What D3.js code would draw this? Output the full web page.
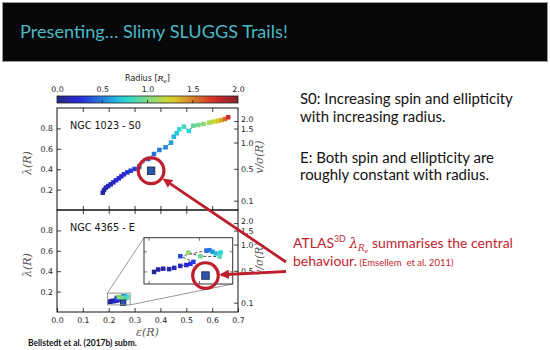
<!DOCTYPE html>
<html>
<head>
<meta charset="utf-8">
<script src="https://cdn.jsdelivr.net/npm/d3@7"></script>
<style>
  body { margin: 0; background: #fff; }
  svg { display: block; }
</style>
</head>
<body>
<svg id="slide" width="550" height="350"></svg>
<script>
// NGC 1023 (S0) trail: ellipticity, lambda, radius [Re]
var s0Eps = [0.177, 0.182, 0.189, 0.198, 0.208, 0.218, 0.228, 0.239, 0.249, 0.259, 0.272, 0.285, 0.300, 0.318,
             0.353, 0.375, 0.396, 0.420, 0.441, 0.452, 0.463, 0.473, 0.491, 0.510, 0.527, 0.546, 0.566, 0.588,
             0.598, 0.612, 0.624, 0.637, 0.650, 0.662];
var s0Lam = [0.170, 0.196, 0.219, 0.235, 0.252, 0.271, 0.291, 0.310, 0.330, 0.350, 0.369, 0.385, 0.402, 0.425,
             0.500, 0.549, 0.588, 0.615, 0.660, 0.719, 0.752, 0.791, 0.817, 0.775, 0.826, 0.833, 0.843, 0.856,
             0.863, 0.868, 0.875, 0.882, 0.892, 0.909];
var s0Rad = [0.08, 0.10, 0.12, 0.14, 0.16, 0.18, 0.20, 0.22, 0.24, 0.26, 0.28, 0.30, 0.33, 0.36,
             0.40, 0.44, 0.48, 0.52, 0.58, 0.64, 0.70, 0.76, 0.84, 0.74, 0.92, 0.98, 1.04, 1.10,
             1.16, 1.22, 1.30, 1.40, 1.55, 1.75];

// NGC 4365 (E) trail
var eEps = [0.205, 0.209, 0.214, 0.220, 0.225, 0.231, 0.237, 0.241, 0.244,
            0.231, 0.257, 0.260, 0.263, 0.266, 0.271, 0.270, 0.251, 0.239];
var eLam = [0.100, 0.106, 0.108, 0.107, 0.110, 0.115, 0.117, 0.120, 0.125,
            0.139, 0.153, 0.154, 0.150, 0.146, 0.148, 0.138, 0.139, 0.148];
var eRad = [0.05, 0.08, 0.11, 0.14, 0.17, 0.20, 0.23, 0.27, 0.31,
            0.36, 0.42, 0.48, 0.55, 0.66, 0.74, 0.86, 0.95, 1.05];

// ATLAS3D central lambda_Re values [eps, lambda]
var atlasS0 = [0.364, 0.385];
var atlasE = [0.256, 0.091];

var xTicks = [0.0, 0.1, 0.2, 0.3, 0.4, 0.5, 0.6, 0.7];
var lamTicks = [0.2, 0.4, 0.6, 0.8];
var vsTicks = [0.1, 0.5, 1.0, 1.5, 2.0];
var cbTicks = [0.0, 0.5, 1.0, 1.5, 2.0];
var insetEpsRange = [0.195, 0.283];
var insetLamRange = [0.07, 0.185];
var insetEpsTicks = [0.2, 0.25];
var insetLamTicks = [0.1, 0.15];

var RED = "#bf1e2d";
var svg = d3.select("#slide");

function jet(t) {
    var c = function (v) { return Math.max(0, Math.min(1, v)); };
    var r = c(1.5 - Math.abs(4 * t - 3));
    var g = c(1.5 - Math.abs(4 * t - 2));
    var b = c(1.5 - Math.abs(4 * t - 1));
    return d3.interpolateRgb(d3.rgb(r * 255, g * 255, b * 255), "#7a7f8a")(0.3);
}
var color = d3.scaleSequential(jet).domain([0, 2]);

var x = d3.scaleLinear().domain([0, 0.7]).range([57, 238]);
var yTop = d3.scaleLinear().domain([0, 1]).range([210, 108]);
var yBot = d3.scaleLinear().domain([0, 1]).range([312, 210]);

// v/sigma -> lambda conversion used for the twin axis
var kappa = 0.87;
function lamFromVs(v) {
    return kappa * v / Math.sqrt(1 + kappa * kappa * v * v);
}

function fit(sel, width) {
    var len = sel.node().getComputedTextLength();
    sel.attr("font-size", +sel.attr("font-size") * width / len);
    return +sel.attr("font-size");
}

function styleAxis(g) {
    g.select(".domain").remove();
    g.selectAll(".tick line").attr("stroke", "#111").attr("stroke-width", 0.8);
    g.selectAll(".tick text").attr("font-family", "DejaVu Sans").attr("font-size", 7.8).attr("fill", "#222");
}

// title bar
svg.append("rect").attr("x", 2.5).attr("y", 2.5).attr("width", 545).attr("height", 59)
    .attr("fill", "#050708").attr("stroke", "#9a9a9a");
var title = svg.append("text").attr("x", 20).attr("y", 37.5)
    .attr("font-family", "Lato").attr("font-size", 21).attr("fill", "#4db8c6")
    .text("Presenting\u2026 Slimy SLUGGS Trails!");
fit(title, 268);

// colorbar
var grad = svg.append("defs").append("linearGradient").attr("id", "cb");
d3.range(0, 1.0001, 0.05).forEach(function (t) {
    grad.append("stop").attr("offset", t).attr("stop-color", color(t * 2));
});
var cbx = d3.scaleLinear().domain([0, 2]).range([x(0), x(0.7)]);
svg.append("rect").attr("x", cbx(0)).attr("y", 96).attr("width", cbx(2) - cbx(0)).attr("height", 7)
    .attr("fill", "url(#cb)").attr("stroke", "#222").attr("stroke-width", 0.8);
svg.append("g").selectAll("line").data(cbTicks.slice(1, 4)).join("line")
    .attr("x1", cbx).attr("x2", cbx).attr("y1", 100).attr("y2", 103)
    .attr("stroke", "#222").attr("stroke-width", 0.8);
svg.append("g").attr("transform", "translate(0,96)")
    .call(d3.axisTop(cbx).tickValues(cbTicks).tickSize(0).tickPadding(4).tickFormat(d3.format(".1f")))
    .call(styleAxis);
var cbLabel = svg.append("text").attr("x", cbx(1)).attr("y", 81).attr("text-anchor", "middle")
    .attr("font-family", "DejaVu Sans").attr("font-size", 8).attr("fill", "#222");
cbLabel.append("tspan").text("Radius [");
cbLabel.append("tspan").attr("font-family", "DejaVu Serif").attr("font-style", "italic").text("R");
cbLabel.append("tspan").attr("font-size", "0.7em").attr("dy", 2).attr("font-family", "DejaVu Serif")
    .attr("font-style", "italic").text("e");
cbLabel.append("tspan").attr("dy", -2).text("]");

var trail = function (xs, ys) {
    return d3.line().x(function (d) { return xs(d.eps); }).y(function (d) { return ys(d.lam); });
};

function toRows(eps, lam, rad) {
    return eps.map(function (e, i) { return { eps: e, lam: lam[i], rad: rad[i] }; });
}

function drawMarks(g, rows, xs, ys, size) {
    g.append("path").datum(rows).attr("d", trail(xs, ys)).attr("fill", "none")
        .attr("stroke", "#222").attr("stroke-width", 0.8).attr("stroke-dasharray", "3,2");
    g.selectAll("rect.pt").data(rows).join("rect").attr("class", "pt")
        .attr("x", function (d) { return xs(d.eps) - size / 2; })
        .attr("y", function (d) { return ys(d.lam) - size / 2; })
        .attr("width", size).attr("height", size)
        .attr("fill", function (d) { return color(d.rad); });
}

function drawAtlas(g, pt, xs, ys, size) {
    g.append("rect").attr("x", xs(pt[0]) - size / 2).attr("y", ys(pt[1]) - size / 2)
        .attr("width", size).attr("height", size)
        .attr("fill", "#2f55a8").attr("stroke", "#15224a").attr("stroke-width", 0.8);
}

function drawPanel(y, name, nameY, rows, atlas, showX) {
    var g = svg.append("g");
    g.append("rect").attr("x", x(0)).attr("y", y(1)).attr("width", x(0.7) - x(0)).attr("height", y(0) - y(1))
        .attr("fill", "none").attr("stroke", "#111").attr("stroke-width", 1);
    g.append("g").attr("transform", "translate(" + x(0) + ",0)")
        .call(d3.axisLeft(y).tickValues(lamTicks).tickSize(-4).tickPadding(4).tickFormat(d3.format(".1f")))
        .call(styleAxis);
    g.append("g").attr("transform", "translate(0," + y(1) + ")")
        .call(d3.axisTop(x).tickValues(xTicks.slice(1, 7)).tickSize(-4).tickFormat(function () { return ""; }))
        .call(styleAxis);
    g.append("g").attr("transform", "translate(0," + y(0) + ")")
        .call(d3.axisBottom(x).tickValues(showX ? xTicks : xTicks.slice(1, 7)).tickSize(-4).tickPadding(5)
            .tickFormat(showX ? d3.format(".1f") : function () { return ""; }))
        .call(styleAxis);
    // twin axis v/sigma
    var rt = g.append("g");
    rt.selectAll("line").data(vsTicks).join("line")
        .attr("x1", x(0.7) - 4).attr("x2", x(0.7))
        .attr("y1", function (v) { return y(lamFromVs(v)); })
        .attr("y2", function (v) { return y(lamFromVs(v)); })
        .attr("stroke", "#111").attr("stroke-width", 0.8);
    rt.selectAll("text").data(vsTicks).join("text")
        .attr("x", x(0.7) + 3).attr("y", function (v) { return y(lamFromVs(v)); })
        .attr("dy", function (v) { return v === 2.0 ? "0.1em" : "0.32em"; })
        .attr("font-family", "DejaVu Sans").attr("font-size", 7.8).attr("fill", "#222")
        .text(d3.format(".1f"));
    var mid = (y(0) + y(1)) / 2;
    g.append("text").attr("transform", "translate(31," + (mid + 4) + ") rotate(-90)").attr("text-anchor", "middle")
        .attr("font-family", "DejaVu Serif").attr("font-style", "italic").attr("font-size", 11).attr("fill", "#555")
        .text("\u03bb(R)");
    g.append("text").attr("transform", "translate(263," + (mid - 2) + ") rotate(-90)").attr("text-anchor", "middle")
        .attr("font-family", "DejaVu Serif").attr("font-style", "italic").attr("font-size", 10.5).attr("fill", "#555")
        .text("v/\u03c3(R)");
    var lab = g.append("text").attr("x", 70).attr("y", nameY).attr("font-family", "DejaVu Sans")
        .attr("font-size", 10).attr("fill", "#111").text(name);
    fit(lab, name.length > 12 ? 71 : 65);
    drawMarks(g, rows, x, y, 4.5);
    drawAtlas(g, atlas, x, y, showX ? 5.5 : 7.5);
    return g;
}

var s0Rows = toRows(s0Eps, s0Lam, s0Rad);
var eRows = toRows(eEps, eLam, eRad);
drawPanel(yTop, "NGC 1023 - S0", 129, s0Rows, atlasS0, false);
drawPanel(yBot, "NGC 4365 - E", 231, eRows, atlasE, true);

svg.append("text").attr("x", (x(0) + x(0.7)) / 2).attr("y", 336).attr("text-anchor", "middle")
    .attr("font-family", "DejaVu Serif").attr("font-style", "italic").attr("font-size", 11).attr("fill", "#555")
    .text("\u03b5(R)");

// zoom inset
var ix = d3.scaleLinear().domain(insetEpsRange).range([144, 232.7]);
var iy = d3.scaleLinear().domain(insetLamRange).range([284, 237.7]);
var src = { x0: x(insetEpsRange[0]), x1: x(insetEpsRange[1]), y0: yBot(insetLamRange[1]), y1: yBot(insetLamRange[0]) };
var ins = svg.append("g");
ins.append("rect").attr("x", src.x0).attr("y", src.y0).attr("width", src.x1 - src.x0).attr("height", src.y1 - src.y0)
    .attr("fill", "none").attr("stroke", "#8c8c8c").attr("stroke-width", 0.9);
ins.append("line").attr("x1", src.x0).attr("y1", src.y0).attr("x2", ix.range()[0]).attr("y2", iy.range()[1])
    .attr("stroke", "#8c8c8c").attr("stroke-width", 0.9);
ins.append("line").attr("x1", src.x1).attr("y1", src.y1).attr("x2", ix.range()[1]).attr("y2", iy.range()[0])
    .attr("stroke", "#8c8c8c").attr("stroke-width", 0.9);
ins.append("rect").attr("x", ix.range()[0]).attr("y", iy.range()[1])
    .attr("width", ix.range()[1] - ix.range()[0]).attr("height", iy.range()[0] - iy.range()[1])
    .attr("fill", "#fff").attr("stroke", "#333").attr("stroke-width", 1);
[[iy.range()[1], 1], [iy.range()[0], -1]].forEach(function (p) {
    ins.append("g").selectAll("line").data(insetEpsTicks).join("line")
        .attr("x1", ix).attr("x2", ix).attr("y1", p[0]).attr("y2", p[0] + 3 * p[1])
        .attr("stroke", "#333").attr("stroke-width", 0.7);
});
[[ix.range()[0], 1], [ix.range()[1], -1]].forEach(function (p) {
    ins.append("g").selectAll("line").data(insetLamTicks).join("line")
        .attr("y1", iy).attr("y2", iy).attr("x1", p[0]).attr("x2", p[0] + 3 * p[1])
        .attr("stroke", "#333").attr("stroke-width", 0.7);
});
drawMarks(ins, eRows, ix, iy, 4.5);
drawAtlas(ins, atlasE, ix, iy, 7.5);

// red annotation circles and arrows
var defs = svg.select("defs");
defs.append("marker").attr("id", "head").attr("viewBox", "0 0 10 10").attr("refX", 8).attr("refY", 5)
    .attr("markerWidth", 3.4).attr("markerHeight", 3.4).attr("orient", "auto")
    .append("path").attr("d", "M0,0L10,5L0,10Z").attr("fill", RED);

function annotate(cx, cy, tx, ty) {
    var r = 12.8;
    svg.append("circle").attr("cx", cx).attr("cy", cy).attr("r", r)
        .attr("fill", "none").attr("stroke", RED).attr("stroke-width", 3.2);
    var dx = tx - cx, dy = ty - cy, len = Math.sqrt(dx * dx + dy * dy);
    svg.append("line").attr("x1", tx).attr("y1", ty)
        .attr("x2", cx + dx / len * (r + 3)).attr("y2", cy + dy / len * (r + 3))
        .attr("stroke", RED).attr("stroke-width", 2.8).attr("marker-end", "url(#head)");
}
annotate(x(atlasS0[0]), yTop(atlasS0[1]), 286, 262);
annotate(ix(atlasE[0]), iy(atlasE[1]), 286, 271.5);

// slide text
var notes = ["S0: Increasing spin and ellipticity", "with increasing radius.",
             "E: Both spin and ellipticity are", "roughly constant with radius."];
var noteY = [104, 122, 163, 180];
var noteSel = svg.append("g").selectAll("text").data(notes).join("text")
    .attr("x", 300).attr("y", function (d, i) { return noteY[i]; })
    .attr("font-family", "Lato").attr("font-size", 16).attr("fill", "#111").text(function (d) { return d; });
var fs = fit(d3.select(noteSel.nodes()[0]), 213);
noteSel.attr("font-size", fs);

var red1 = svg.append("text").attr("x", 293).attr("y", 248).attr("font-family", "Lato")
    .attr("font-size", 16).attr("fill", RED);
red1.append("tspan").text("ATLAS");
red1.append("tspan").attr("font-size", "0.62em").attr("dy", -6).text("3D");
red1.append("tspan").attr("dy", 6).text(" ");
red1.append("tspan").attr("font-family", "DejaVu Serif").attr("font-style", "italic").text("\u03bb");
red1.append("tspan").attr("font-family", "DejaVu Serif").attr("font-style", "italic").attr("font-size", "0.62em")
    .attr("dy", 3).text("R");
red1.append("tspan").attr("font-family", "DejaVu Serif").attr("font-style", "italic").attr("font-size", "0.45em")
    .attr("dy", 2).text("e");
red1.append("tspan").attr("dy", -5).text(" summarises the central");
var rfs = fit(red1, 220);

var red2 = svg.append("text").attr("x", 293).attr("y", 266).attr("font-family", "Lato")
    .attr("font-size", rfs).attr("fill", RED);
red2.append("tspan").text("behaviour.");
red2.append("tspan").attr("font-size", "0.68em").text(" (Emsellem  et al. 2011)").attr("xml:space", "preserve");

var credit = svg.append("text").attr("x", 28).attr("y", 346).attr("font-family", "Lato").attr("font-weight", "bold")
    .attr("font-size", 8).attr("fill", "#111").text("Bellstedt et al. (2017b) subm.");
fit(credit, 109);
</script>
</body>
</html>
